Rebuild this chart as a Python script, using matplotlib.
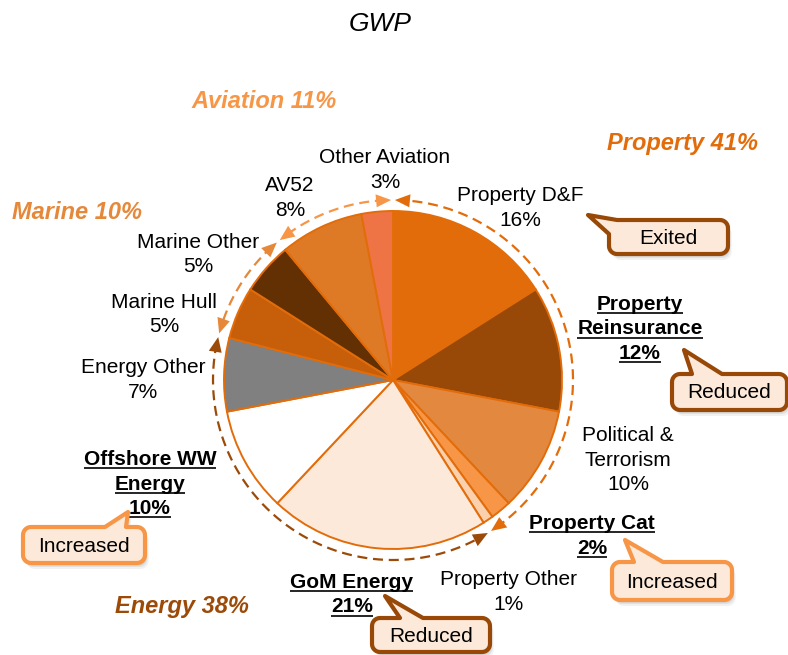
import numpy as np
import matplotlib
matplotlib.use('Agg')
import matplotlib.pyplot as plt
from matplotlib.patches import Polygon

plt.rcParams['font.family'] = ['Liberation Sans', 'DejaVu Sans']

# ---------------- data ----------------
segments = ['Property D&F', 'Property\nReinsurance', 'Political &\nTerrorism', 'Property Cat',
            'Property Other', 'GoM Energy', 'Offshore WW\nEnergy', 'Energy Other',
            'Marine Hull', 'Marine Other', 'AV52', 'Other Aviation']
shares = [16, 12, 10, 2, 1, 21, 10, 7, 5, 5, 8, 3]
highlight = [False, True, False, True, False, True, True, False, False, False, False, False]
seg_colors = ['#E36C0A', '#984807', '#E3893F', '#F79646', '#FBD0AC', '#FDE9D9',
              '#FFFFFF', '#808080', '#C65E0A', '#633003', '#DE7A25', '#EE7445']

groups = ['Property', 'Energy', 'Marine', 'Aviation']
group_shares = [41, 38, 10, 11]
group_colors = ['#E36C0A', '#9C4A08', '#E5883A', '#F79646']

callout_text = ['Exited', 'Reduced', 'Increased', 'Reduced', 'Increased']
callout_seg = ['Property D&F', 'Property\nReinsurance', 'Property Cat', 'GoM Energy', 'Offshore WW\nEnergy']

# ---------------- figure ----------------
W, H = 788, 655
fig = plt.figure(figsize=(W / 100, H / 100), dpi=100)
ax = fig.add_axes([0, 0, 1, 1])

cx, cy, R = 393, 380, 169

# y axis is inverted (pixel style), so counterclock in data = clockwise on screen
ax.pie(shares, colors=seg_colors, startangle=-90, counterclock=True,
       radius=R, center=(cx, cy),
       wedgeprops=dict(edgecolor='#E36C0A', linewidth=1.4))
ax.set_xlim(0, W)
ax.set_ylim(H, 0)
ax.set_aspect('equal')
ax.axis('off')


def pt(phi, r):
    a = np.deg2rad(phi)
    return cx + r * np.cos(a), cy - r * np.sin(a)


def arrow_head(phi_tip, direction, r, color, length=15, half=6.5):
    # direction +1: pointing toward larger angle, -1: smaller angle
    dphi = np.rad2deg(length / r)
    tip = pt(phi_tip, r)
    bx, by = pt(phi_tip - direction * dphi, r)
    a = np.deg2rad(phi_tip - direction * dphi)
    nx, ny = np.cos(a), -np.sin(a)
    tri = [tip, (bx + nx * half, by + ny * half), (bx - nx * half, by - ny * half)]
    ax.add_patch(Polygon(tri, closed=True, facecolor=color, edgecolor='none', zorder=4))


# dashed group arcs with arrowheads
Ra = 180
gap = 0.6
start = 90.0
for g, s, col in zip(groups, group_shares, group_colors):
    end = start - s * 3.6
    hi, lo = start - gap, end + gap
    phis = np.linspace(lo + 2, hi - 2, 200)
    xs, ys = pt(phis, Ra)
    ax.plot(xs, ys, color=col, lw=1.6, dashes=(4.5, 2.6), zorder=3)
    arrow_head(hi, +1, Ra, col)
    arrow_head(lo, -1, Ra, col)
    start = end

# ---------------- labels ----------------
label_pos = {  # centre x, baseline of first line
    'Property D&F': (520, 201),
    'Property\nReinsurance': (640, 310),
    'Political &\nTerrorism': (628, 441),
    'Property Cat': (592, 529),
    'Property Other': (509, 585),
    'GoM Energy': (352, 588),
    'Offshore WW\nEnergy': (150, 465),
    'Energy Other': (143, 373),
    'Marine Hull': (164, 308),
    'Marine Other': (198, 248),
    'AV52': (290, 191),
    'Other Aviation': (385, 163),
}
pitch = 24.5
underlined = []
for name, share, hl in zip(segments, shares, highlight):
    x, y0 = label_pos[name]
    lines = name.split('\n') + ['%d%%' % share]
    for i, ln in enumerate(lines):
        t = ax.text(x, y0 + i * pitch, ln, ha='center', va='baseline', fontsize=15,
                    fontweight='bold' if hl else 'normal', color='black', zorder=6)
        if hl:
            underlined.append((t, y0 + i * pitch))

group_pos = {'Property': (683, 150), 'Energy': (182, 613), 'Marine': (77, 219), 'Aviation': (264, 108)}
for g, s, col in zip(groups, group_shares, group_colors):
    x, y = group_pos[g]
    ax.text(x, y, '%s %d%%' % (g, s), ha='center', va='baseline', fontsize=17,
            fontweight='bold', style='italic', color=col)

ax.text(380, 31, 'GWP', ha='center', va='baseline', fontsize=19, style='italic', color='black')


# ---------------- callouts ----------------
def arc_pts(xc, yc, r, a0, a1, n=8):
    a = np.deg2rad(np.linspace(a0, a1, n))
    return [(xc + r * np.cos(t), yc + r * np.sin(t)) for t in a]


def callout_outline(x0, y0, x1, y1, tip, b1, b2, r=8):
    tl = arc_pts(x0 + r, y0 + r, r, 180, 270)
    tr = arc_pts(x1 - r, y0 + r, r, 270, 360)
    br = arc_pts(x1 - r, y1 - r, r, 0, 90)
    bl = arc_pts(x0 + r, y1 - r, r, 90, 180)
    if b1[0] <= x0:
        return [b2] + tr + br + bl + [b1, tip]
    return tl + [b1, tip, b2] + tr + br + bl


callout_geo = [
    ((609, 220, 728, 254), (588, 215), (609, 234), (617, 220)),
    ((672, 374, 787, 410), (684, 350), (692, 374), (722, 374)),
    ((612, 562, 732, 600), (625, 540), (634, 562), (663, 562)),
    ((372, 618, 490, 652), (385, 596), (400, 618), (423, 618)),
    ((23, 527, 145, 563), (128, 512), (105, 527), (126, 527)),
]
for txt, geo in zip(callout_text, callout_geo):
    (x0, y0, x1, y1), tip, b1, b2 = geo
    ec = '#F79646' if txt == 'Increased' else '#984807'
    outline = callout_outline(x0, y0, x1, y1, tip, b1, b2)
    for off, al in ((6, 0.10), (4, 0.15), (2.5, 0.2)):
        sh = [(px + off * 0.6, py + off) for px, py in outline]
        ax.add_patch(Polygon(sh, closed=True, facecolor='#7F7F7F', edgecolor='none',
                             alpha=al, zorder=7))
    ax.add_patch(Polygon(outline, closed=True, facecolor='#FDE9D9', edgecolor=ec,
                         linewidth=3.0, joinstyle='round', zorder=8))
    ax.text((x0 + x1) / 2, (y0 + y1) / 2 + 6.5, txt, ha='center', va='baseline',
            fontsize=15, color='black', zorder=9)

# underline the highlighted labels
fig.canvas.draw()
renderer = fig.canvas.get_renderer()
inv = ax.transData.inverted()
for t, yb in underlined:
    bb = t.get_window_extent(renderer)
    (xa, _), (xb, _) = inv.transform([(bb.x0, bb.y0), (bb.x1, bb.y1)])
    ax.plot([xa, xb], [yb + 3, yb + 3], color='black', lw=1.2, solid_capstyle='butt', zorder=6)

fig.savefig('out.png', dpi=100)
